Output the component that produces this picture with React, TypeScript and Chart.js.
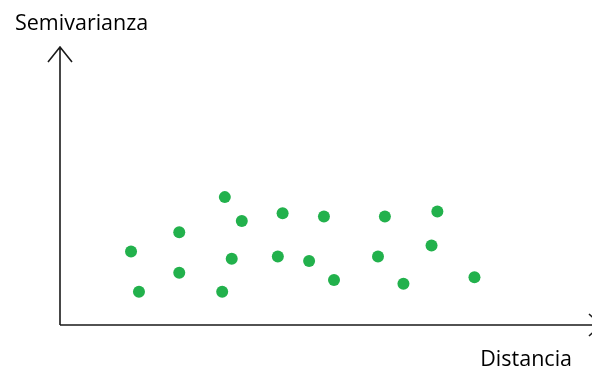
import React, { useEffect, useRef } from "react";
import { Chart, registerables } from "chart.js";

Chart.register(...registerables);

const distancia: number[] = [1.34, 1.49, 2.25, 2.25, 3.11, 3.43, 3.06, 3.24, 4.2, 4.11, 4.98, 4.7, 5.17, 6.13, 6.0, 7.12, 7.01, 6.48, 7.82];
const semivarianza: number[] = [1.32, 0.6, 1.67, 0.94, 2.3, 1.87, 0.6, 1.19, 2.01, 1.23, 1.95, 1.15, 0.81, 1.95, 1.23, 2.04, 1.43, 0.74, 0.86];
const xLabel = "Distancia";
const yLabel = "Semivarianza";
const xMax = 10;
const yMax = 5;

const axisDecor = {
  id: "axisDecor",
  afterDraw(chart: any) {
    const ctx = chart.ctx;
    const xs = chart.scales.x;
    const ys = chart.scales.y;
    const x0 = xs.getPixelForValue(0);
    const y0 = ys.getPixelForValue(0);
    const yTop = ys.getPixelForValue(yMax);
    const xEnd = xs.getPixelForValue(xMax);
    ctx.save();
    ctx.strokeStyle = "#1a1a1a";
    ctx.lineWidth = 1.6;
    ctx.beginPath();
    ctx.moveTo(x0, y0);
    ctx.lineTo(x0, yTop);
    ctx.moveTo(x0, y0);
    ctx.lineTo(xEnd + 4, y0);
    // arrow heads
    ctx.moveTo(x0 - 12, yTop + 15);
    ctx.lineTo(x0, yTop);
    ctx.lineTo(x0 + 12, yTop + 15);
    ctx.moveTo(xEnd - 1, y0 - 11);
    ctx.lineTo(xEnd + 11, y0);
    ctx.lineTo(xEnd - 1, y0 + 11);
    ctx.stroke();
    ctx.fillStyle = "#000";
    ctx.font = "21.5px 'Open Sans'";
    ctx.textBaseline = "alphabetic";
    ctx.textAlign = "left";
    ctx.fillText(yLabel, 15, 30);
    ctx.textAlign = "right";
    ctx.fillText(xLabel, 572, 366);
    ctx.restore();
  },
};

export default function App() {
  const ref = useRef<HTMLCanvasElement>(null);
  useEffect(() => {
    document.body.style.margin = "0";
    const chart = new Chart(ref.current!, {
      type: "scatter",
      data: {
        datasets: [
          {
            data: distancia.map((d, i) => ({ x: d, y: semivarianza[i] })),
            backgroundColor: "#22b14c",
            borderColor: "#22b14c",
            pointRadius: 6,
            borderWidth: 0,
          },
        ],
      },
      options: {
        animation: false,
        responsive: false,
        layout: { autoPadding: false, padding: { left: 60, right: 2, top: 47, bottom: 45 } },
        plugins: { legend: { display: false }, tooltip: { enabled: false } },
        scales: {
          x: { type: "linear", min: 0, max: xMax, display: false },
          y: { type: "linear", min: 0, max: yMax, display: false },
        },
      },
      plugins: [axisDecor],
    });
    return () => chart.destroy();
  }, []);
  return (
    <div style={{ position: "absolute", left: 0, top: 0, width: 592, height: 370, background: "#fff" }}>
      <canvas ref={ref} width={592} height={370} />
    </div>
  );
}
